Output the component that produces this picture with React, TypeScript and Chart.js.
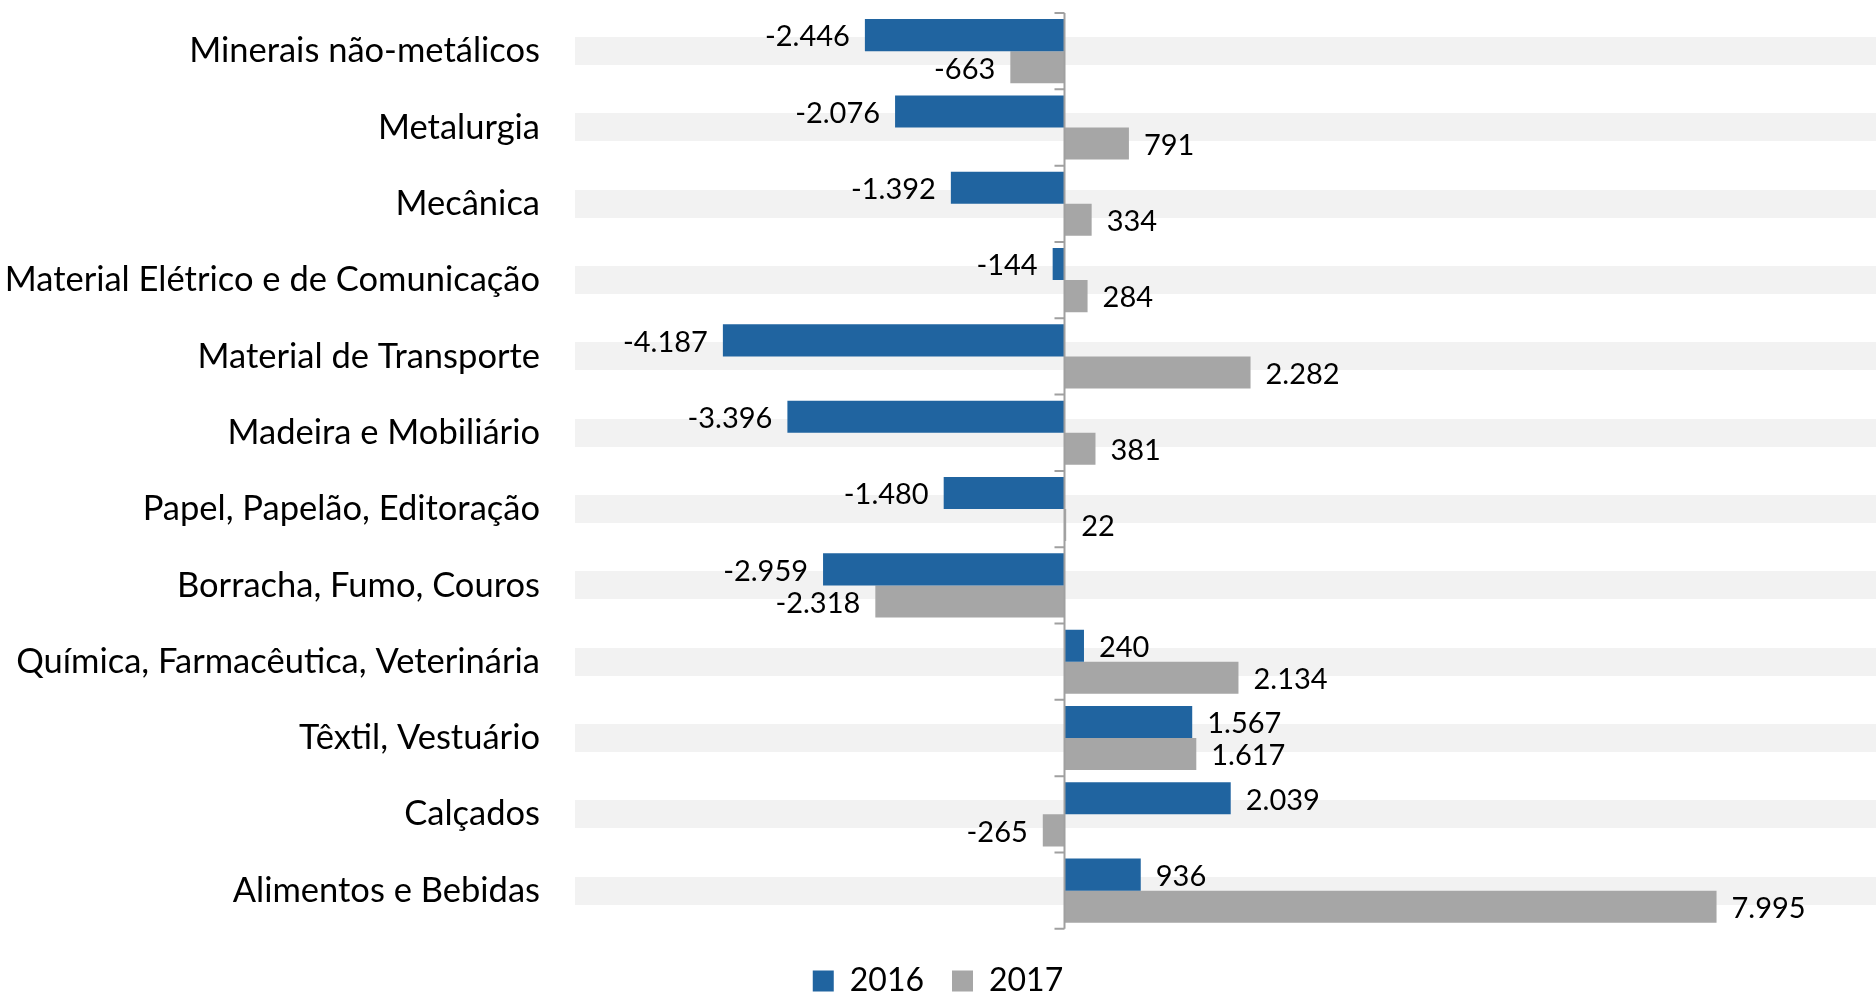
import React, { useEffect, useRef } from 'react';
import { Chart, registerables } from 'chart.js';

Chart.register(...registerables);

const categories = [
  'Minerais não-metálicos',
  'Metalurgia',
  'Mecânica',
  'Material Elétrico e de Comunicação',
  'Material de Transporte',
  'Madeira e Mobiliário',
  'Papel, Papelão, Editoração',
  'Borracha, Fumo, Couros',
  'Química, Farmacêutica, Veterinária',
  'Têxtil, Vestuário',
  'Calçados',
  'Alimentos e Bebidas',
];
const series2016 = [-2446, -2076, -1392, -144, -4187, -3396, -1480, -2959, 240, 1567, 2039, 936];
const series2017 = [-663, 791, 334, 284, 2282, 381, 22, -2318, 2134, 1617, -265, 7995];
const seriesNames = ['2016', '2017'];

const FONT = 'Lato';

function fmt(v: number): string {
  const s = Math.abs(v).toString().replace(/\B(?=(\d{3})+(?!\d))/g, '.');
  return (v < 0 ? '-' : '') + s;
}

const valueLabels = {
  id: 'valueLabels',
  afterDatasetsDraw(chart: any) {
    const ctx = chart.ctx;
    ctx.save();
    ctx.font = `29px ${FONT}`;
    ctx.fillStyle = '#000';
    ctx.textBaseline = 'middle';
    chart.data.datasets.forEach((ds: any, di: number) => {
      const meta = chart.getDatasetMeta(di);
      meta.data.forEach((el: any, i: number) => {
        const v = ds.data[i] as number;
        const gap = 15;
        const y = el.y + 2;
        if (v >= 0) {
          ctx.textAlign = 'left';
          ctx.fillText(fmt(v), Math.max(el.x, el.base) + gap, y);
        } else {
          ctx.textAlign = 'right';
          ctx.fillText(fmt(v), Math.min(el.x, el.base) - gap, y);
        }
      });
    });
    ctx.restore();
  },
};

const zeroAxis = {
  id: 'zeroAxis',
  afterDatasetsDraw(chart: any) {
    const ctx = chart.ctx;
    const { top, bottom } = chart.chartArea;
    const x = Math.round(chart.scales.x.getPixelForValue(0)) + 0.5;
    const n = categories.length;
    const step = (bottom - top) / n;
    ctx.save();
    ctx.strokeStyle = '#A0A0A0';
    ctx.lineWidth = 2;
    ctx.beginPath();
    ctx.moveTo(x, top);
    ctx.lineTo(x, bottom);
    for (let i = 0; i <= n; i++) {
      const y = top + i * step;
      ctx.moveTo(x - 10, y);
      ctx.lineTo(x, y);
    }
    ctx.stroke();
    ctx.restore();
  },
};

export default function App() {
  const ref = useRef<HTMLCanvasElement>(null);
  useEffect(() => {
    document.body.style.margin = '0';
    const canvas = ref.current!;
    const chart = new Chart(canvas, {
      type: 'bar',
      data: {
        labels: categories,
        datasets: [
          {
            label: seriesNames[0],
            data: series2016,
            backgroundColor: '#2064A0',
            categoryPercentage: 0.84,
            barPercentage: 1,
          },
          {
            label: seriesNames[1],
            data: series2017,
            backgroundColor: '#A6A6A6',
            categoryPercentage: 0.84,
            barPercentage: 1,
          },
        ],
      },
      options: {
        indexAxis: 'y',
        responsive: false,
        animation: false,
        layout: { padding: { top: 13, bottom: -11, left: 0, right: 0 } },
        scales: {
          x: { display: false, min: -6000, max: 9950 },
          y: {
            grid: { offset: false, color: '#F2F2F2', lineWidth: 28, drawTicks: false },
            border: { display: false },
            ticks: { font: { family: FONT, size: 34.5 }, color: '#000', padding: 35 },
            afterFit(scale: any) {
              scale.width = 575;
              scale.paddingTop = 0;
              scale.paddingBottom = 0;
            },
          },
        },
        plugins: {
          legend: {
            position: 'bottom',
            title: { display: true, text: '', font: { size: 1 }, padding: { top: 7, bottom: 0 } },
            labels: {
              boxWidth: 21,
              boxHeight: 21,
              font: { family: FONT, size: 32 },
              color: '#000',
              padding: 28,
            },
          },
          tooltip: { enabled: false },
        },
      } as any,
      plugins: [valueLabels, zeroAxis],
    });
    return () => chart.destroy();
  }, []);
  return <canvas ref={ref} width={1876} height={996} style={{ display: 'block' }} />;
}
